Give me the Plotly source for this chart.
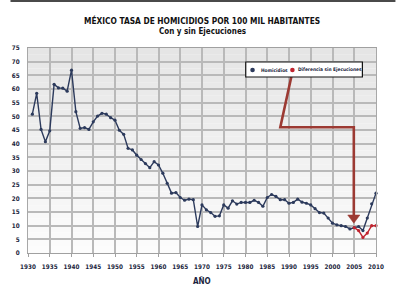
import plotly.graph_objects as go

# ---------------- data ----------------
years = list(range(1931, 2011))
homicidios = [
    50.8, 58.4, 45.2, 40.7, 44.7, 61.7, 60.4, 60.3, 59.2, 66.9,   # 1931-1940
    51.7, 45.6, 45.9, 45.2, 48.0, 50.1, 51.1, 50.8, 49.5, 48.6,   # 1941-1950
    44.9, 43.4, 38.3, 37.7, 35.8, 34.2, 32.7, 31.2, 33.4, 32.2,   # 1951-1960
    29.2, 25.5, 21.9, 22.1, 20.3, 19.3, 19.7, 19.5, 9.7, 17.6,    # 1961-1970
    15.8, 14.8, 13.4, 13.6, 17.6, 16.4, 19.1, 17.9, 18.5, 18.5,   # 1971-1980
    18.5, 19.3, 18.5, 17.1, 20.3, 21.4, 20.7, 19.5, 19.5, 18.2,   # 1981-1990
    18.5, 19.7, 18.6, 18.2, 17.6, 16.2, 14.8, 14.6, 12.8, 10.9,   # 1991-2000
    10.3, 10.0, 9.7, 8.8, 9.3, 9.7, 8.2, 12.8, 18.0, 21.9,        # 2001-2010
]
years_sin = [2005, 2006, 2007, 2008, 2009, 2010]
sin_ejecuciones = [9.3, 8.2, 5.7, 7.3, 10.0, 10.0]

series_names = ["Homicidios", "Diferencia sin Ejecuciones"]
x_ticks = list(range(1930, 2011, 5))
y_ticks = list(range(0, 76, 5))

title_main = "MÉXICO TASA DE HOMICIDIOS POR 100 MIL HABITANTES"
title_sub = "Con y sin Ejecuciones"
x_title = "AÑO"

# ---------------- style ----------------
FONT = "DejaVu Sans Condensed, Liberation Sans Narrow, Arial Narrow, sans-serif"
NAVY = "#2c3a5c"
RED = "#c0242f"
ARROW = "#9c3a33"
LABEL = "#1c1f3e"
GRID = "#b9b9b9"

W, H = 396, 292
ML, MR, MT, MB = 18, 20, 48, 39
PW, PH = W - ML - MR, H - MT - MB


def px2x(px):
    return (px - ML) / PW


def py2y(py):
    return (H - MB - py) / PH


fig = go.Figure()

fig.add_trace(go.Scatter(
    x=years, y=homicidios, mode="lines+markers", name=series_names[0],
    line=dict(color=NAVY, width=1.4), marker=dict(color=NAVY, size=3.2),
    cliponaxis=False, showlegend=False,
))
fig.add_trace(go.Scatter(
    x=years_sin, y=sin_ejecuciones, mode="lines+markers", name=series_names[1],
    line=dict(color=RED, width=1.4), marker=dict(color=RED, size=3.2),
    cliponaxis=False, showlegend=False,
))

shapes = []
# gradient background of plot area
n_bands = 30
top_c, bot_c = (0xe5, 0xe5, 0xe5), (0xfc, 0xfc, 0xfc)
for i in range(n_bands):
    t = (i + 0.5) / n_bands
    c = tuple(round(bot_c[k] + (top_c[k] - bot_c[k]) * t) for k in range(3))
    shapes.append(dict(
        type="rect", xref="paper", yref="paper", x0=0, x1=1,
        y0=i / n_bands, y1=(i + 1) / n_bands,
        fillcolor="rgb(%d,%d,%d)" % c, line=dict(width=0), layer="below",
    ))

# callout arrow path (from legend marker to 2005)
shapes.append(dict(
    type="path", xref="x", yref="y",
    path="M 1990.8 66.4 L 1988.0 46.0 L 2004.9 46.0 L 2004.9 13.6",
    line=dict(color=ARROW, width=2.6), layer="above",
))
shapes.append(dict(
    type="path", xref="x", yref="y",
    path="M 2003.5 13.9 L 2006.3 13.9 L 2004.9 10.9 Z",
    fillcolor=ARROW, line=dict(color=ARROW, width=0.5), layer="above",
))

# manual legend box
shapes.append(dict(
    type="rect", xref="paper", yref="paper",
    x0=px2x(242), x1=px2x(362), y0=py2y(77), y1=py2y(62),
    fillcolor="white", line=dict(color="#111111", width=1.2), layer="above",
))
for mx, col in [(249, NAVY), (290, RED)]:
    shapes.append(dict(
        type="circle", xref="paper", yref="paper",
        xsizemode="pixel", ysizemode="pixel",
        xanchor=px2x(mx), yanchor=py2y(70),
        x0=-2.3, x1=2.3, y0=-2.3, y1=2.3,
        fillcolor=col, line=dict(color=col, width=0), layer="above",
    ))

# page edge line at top
shapes.append(dict(
    type="rect", xref="paper", yref="paper",
    x0=px2x(0), x1=px2x(W), y0=py2y(2), y1=py2y(0),
    fillcolor="#4a4a4a", line=dict(width=0), layer="above",
))

annotations = [
    dict(text="<b>" + title_main + "</b>", xref="paper", yref="paper",
         x=px2x(197), y=py2y(20), showarrow=False,
         font=dict(family=FONT, size=8.3, color="#111111"),
         xanchor="center", yanchor="middle"),
    dict(text="<b>" + title_sub + "</b>", xref="paper", yref="paper",
         x=px2x(197), y=py2y(32), showarrow=False,
         font=dict(family=FONT, size=8, color="#111111"),
         xanchor="center", yanchor="middle"),
    dict(text="<b>" + x_title + "</b>", xref="paper", yref="paper",
         x=px2x(197), y=py2y(281), showarrow=False,
         font=dict(family=FONT, size=8, color=LABEL),
         xanchor="center", yanchor="middle"),
    dict(text="<b>" + series_names[0] + "</b>", xref="paper", yref="paper",
         x=px2x(256), y=py2y(70), showarrow=False,
         font=dict(family=FONT, size=4.8, color=LABEL),
         xanchor="left", yanchor="middle"),
    dict(text="<b>" + series_names[1] + "</b>", xref="paper", yref="paper",
         x=px2x(294), y=py2y(70), showarrow=False,
         font=dict(family=FONT, size=4.8, color=LABEL),
         xanchor="left", yanchor="middle"),
]

fig.update_layout(
    width=W, height=H,
    margin=dict(l=ML, r=MR, t=MT, b=MB, pad=0),
    paper_bgcolor="white", plot_bgcolor="white",
    showlegend=False,
    shapes=shapes, annotations=annotations,
    font=dict(family=FONT, color=LABEL),
)
fig.update_xaxes(
    range=[1930, 2010], tickvals=x_ticks,
    ticktext=["<b>%d</b>" % v for v in x_ticks],
    showgrid=True, gridcolor=GRID, gridwidth=1.5,
    showline=True, linecolor="#a0a0a0", linewidth=1, mirror=True,
    ticks="outside", ticklen=3, tickcolor="#a0a0a0",
    tickfont=dict(family=FONT, size=6.3, color=LABEL),
    ticklabelstandoff=4, zeroline=False,
)
fig.update_yaxes(
    range=[0, 75], tickvals=y_ticks,
    ticktext=["<b>%d</b>" % v for v in y_ticks],
    showgrid=True, gridcolor=GRID, gridwidth=1.5,
    showline=True, linecolor="#a8a8a8", linewidth=1, mirror=True,
    ticks="", tickfont=dict(family=FONT, size=6.3, color=LABEL),
    ticklabelstandoff=6, zeroline=False,
)

fig.write_html("out.html")
